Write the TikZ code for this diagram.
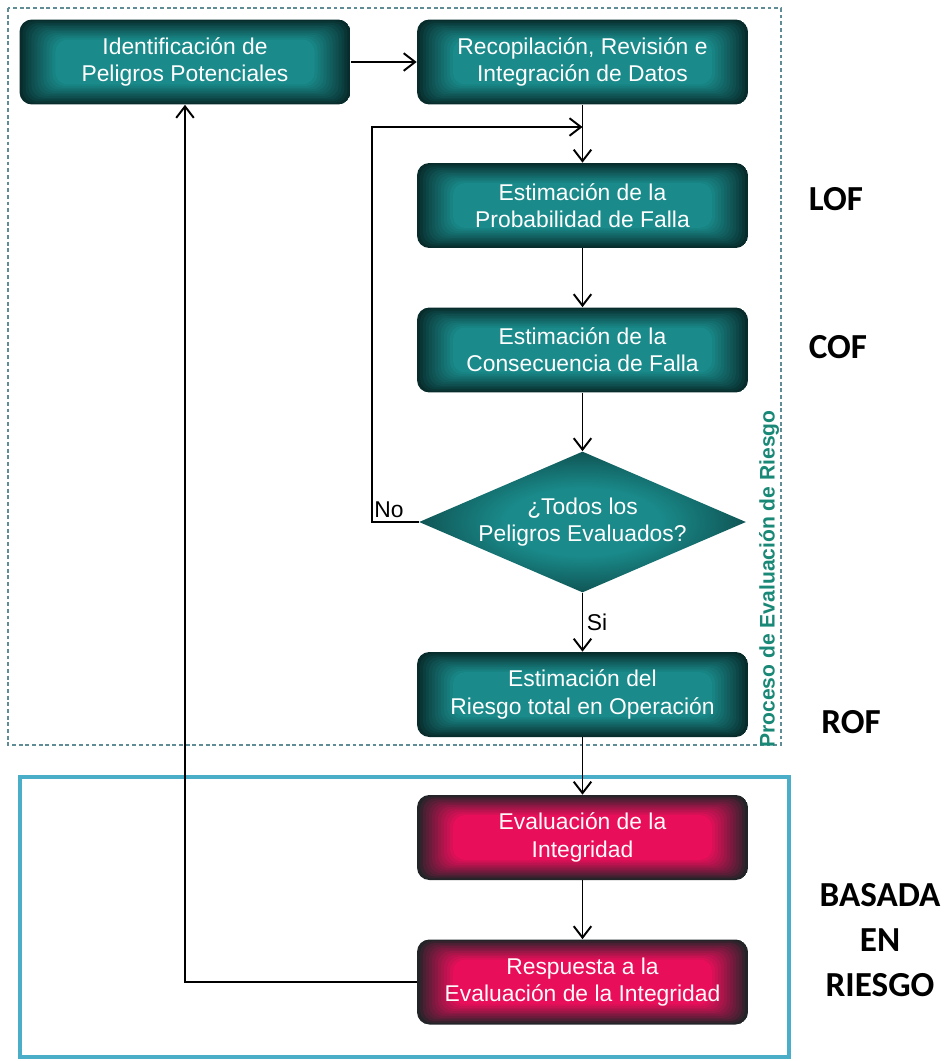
\documentclass[tikz,border=0pt]{standalone}
\usepackage{fontspec}
\usepackage{tikz}
\usetikzlibrary{shapes.geometric,arrows.meta,positioning}
\setmainfont{Liberation Sans}
\newfontfamily\cajafont{Liberation Sans}
\newfontfamily\etiqfont{Carlito}

\definecolor{tealdark}{RGB}{8,44,44}
\definecolor{tealmid}{RGB}{26,138,138}
\definecolor{rojodark}{RGB}{34,36,40}
\definecolor{rojomid}{RGB}{232,14,90}
\definecolor{verdetit}{RGB}{26,136,118}
\definecolor{guion}{RGB}{96,140,150}
\definecolor{azulmarco}{RGB}{74,174,200}

\pgfdeclareradialshading{tealrombo}{\pgfpoint{0bp}{0bp}}{color(0bp)=(tealmid); color(12bp)=(tealmid); color(35bp)=(tealdark); color(50bp)=(tealdark)}

% inner glow: nested rounded rectangles from edge colour to centre colour
\newcommand\glowfill[2]{%
  \foreach \k [evaluate=\k as \p using {int(100*(\k/12)^0.9)}] in {0,...,12}
    \fill[rounded corners=7pt, #2!\p!#1]
      ([shift={(\k*1.7pt,\k*0.95pt)}]path picture bounding box.south west) rectangle
      ([shift={(-\k*1.7pt,-\k*0.95pt)}]path picture bounding box.north east);}

\tikzset{
  caja/.style={rectangle, rounded corners=7pt, minimum width=6.62cm, minimum height=1.7cm,
    inner sep=0pt, text=white, align=center, font=\cajafont\fontsize{13}{15.5}\selectfont,
    path picture={\glowfill{tealdark}{tealmid}}},
  cajaroja/.style={caja, text=white!92!pink, path picture={\glowfill{rojodark}{rojomid}}},
  rombo/.style={diamond, aspect=2.32, minimum width=6.54cm, minimum height=2.82cm,
    inner sep=0pt, text=white, align=center, font=\cajafont\fontsize{13}{15.5}\selectfont,
    shading=tealrombo},
  flecha/.style={-{Straight Barb[length=6.5pt,width=10pt]}, line width=1.1pt},
  rotulo/.style={font=\cajafont\fontsize{13}{15}\selectfont, inner sep=2pt},
  etiq/.style={font=\etiqfont\bfseries\fontsize{20}{25.5}\selectfont, align=center},
  marcoproc/.style={guion, line width=0.6pt, dash pattern=on 2.2pt off 1.6pt},
  marcoriesgo/.style={azulmarco, line width=2.2pt}
}

\begin{document}
\begin{tikzpicture}[x=0.02cm, y=-0.02cm]
    \useasboundingbox (0,0) rectangle (952,1061);

    % frames
    \draw[marcoproc] (8,8) rectangle (781,745);
    \draw[marcoriesgo] (20,777) rectangle (789,1057);

    \node[caja] (ident) at (185,62) {Identificación de\\Peligros Potenciales};
    \node[caja] (recop) at (582.5,62) {Recopilación, Revisión e\\Integración de Datos};
    \node[caja] (prob) at (582.5,205.5) {Estimación de la\\Probabilidad de Falla};
    \node[caja] (cons) at (582.5,350) {Estimación de la\\Consecuencia de Falla};
    \node[rombo] (todos) at (582.5,522) {¿Todos los\\Peligros Evaluados?};
    \node[caja] (riesgo) at (582.5,694.5) {Estimación del\\Riesgo total en Operación};
    \node[cajaroja] (integ) at (582.5,837.5) {Evaluación de la\\Integridad};
    \node[cajaroja] (resp) at (582.5,982) {Respuesta a la\\Evaluación de la Integridad};

    \node[rotate=90, text=verdetit, font=\cajafont\bfseries\fontsize{12}{14}\selectfont] (proctit) at (769,579) {Proceso de Evaluación de Riesgo};

    \node[etiq] (lof) at (836,199) {LOF};
    \node[etiq] (cof) at (838,347) {COF};
    \node[etiq] (rof) at (851,722) {ROF};
    \node[etiq] (basada) at (880,940) {BASADA\\EN\\RIESGO};

    % connectors
    \coordinate (bucle) at (372,127);
    \draw[flecha] (ident) -- (recop);
    \draw[flecha] (recop) -- (prob);
    \draw[flecha] (prob) -- (cons);
    \draw[flecha] (cons) -- (todos);
    \draw[flecha] (todos) -- node[rotulo, right] (si) {Si} (riesgo);
    \draw[flecha] (riesgo) -- (integ);
    \draw[flecha] (integ) -- (resp);
    \draw[flecha] (todos.west) node[rotulo, anchor=south east, xshift=-6pt] (no) {No} -| (bucle) -- (recop.south |- bucle);
    \draw[flecha] (resp.west) -| (ident.south);
\end{tikzpicture}
\end{document}
